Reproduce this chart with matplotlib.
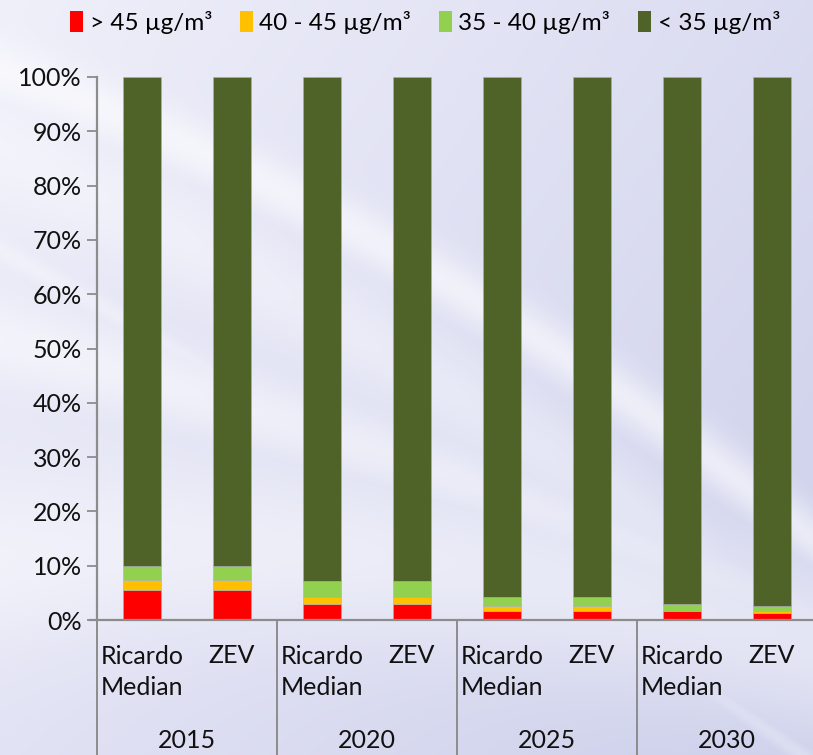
import numpy as np
import matplotlib.pyplot as plt
from matplotlib.patches import Patch
from matplotlib.transforms import blended_transform_factory

plt.rcParams['font.family'] = ['Lato', 'DejaVu Sans']

years = ['2015', '2020', '2025', '2030']
scenarios = ['Ricardo\nMedian', 'ZEV']

# share of sites per concentration band (%), bars ordered year by year, Ricardo then ZEV
above_45 = [5.6, 5.6, 2.9, 2.9, 1.7, 1.7, 1.7, 1.2]
band_40_45 = [1.7, 1.7, 1.3, 1.3, 0.9, 0.9, 0.0, 0.4]
band_35_40 = [2.6, 2.6, 3.0, 3.0, 1.6, 1.6, 1.3, 1.0]
below_35 = [100 - a - b - c for a, b, c in zip(above_45, band_40_45, band_35_40)]

series = [
    ('> 45 µg/m³', above_45, '#FF0000'),
    ('40 - 45 µg/m³', band_40_45, '#FFC000'),
    ('35 - 40 µg/m³', band_35_40, '#92D050'),
    ('< 35 µg/m³', below_35, '#4F6228'),
]

FS = 18
W, H = 813, 755
fig = plt.figure(figsize=(W / 100, H / 100), dpi=100)

# soft lavender backdrop with a few white swooshes
bg = fig.add_axes([0, 0, 1, 1], zorder=-10)
yy, xx = np.mgrid[0:H, 0:W]
t = (xx / W * 0.6 + yy / H * 0.4)
c0 = np.array([0.94, 0.94, 0.98])
c1 = np.array([0.80, 0.81, 0.92])
base = c0 + (c1 - c0) * t[..., None]
bright = np.zeros((H, W))
for a, b, c, w, s in [(70, 0.35, 0.00028, 30, 0.55),
                      (150, 0.45, 0.00020, 55, 0.35),
                      (340, 0.25, 0.00012, 40, 0.45),
                      (560, -0.10, 0.00025, 90, 0.45),
                      (250, 0.55, 0.00010, 12, 0.3)]:
    yc = a + b * xx + c * xx ** 2
    bright = np.maximum(bright, s * np.exp(-((yy - yc) / w) ** 2))
img = base + (1 - base) * bright[..., None]
bg.imshow(np.clip(img, 0, 1), aspect='auto', extent=[0, W, H, 0])
bg.axis('off')

ax = fig.add_axes([97 / W, 135 / H, 720 / W, 543 / H])
ax.patch.set_alpha(0)

x = np.arange(len(above_45))
bottom = np.zeros(len(x))
for label, vals, color in series:
    ax.bar(x, vals, width=0.42, bottom=bottom, color=color,
           edgecolor='#b0b0b0', linewidth=0.4, label=label)
    bottom += np.array(vals)

ax.set_xlim(-0.5, 7.5)
ax.set_ylim(0, 100)
ax.set_yticks(np.arange(0, 101, 10))
ax.set_yticklabels([f'{v}%' for v in range(0, 101, 10)], fontsize=FS, color='#111111')
ax.set_xticks([])
ax.tick_params(axis='y', length=7, width=1.3, color='#8c8c8c', pad=4)
for side in ['top', 'right']:
    ax.spines[side].set_visible(False)
for side in ['left', 'bottom']:
    ax.spines[side].set_color('#8c8c8c')
    ax.spines[side].set_linewidth(1.6)
ax.spines['bottom'].set_bounds(-0.58, 7.5)

# two-level category axis: scenario names, year groups, separators
tr = blended_transform_factory(ax.transData, ax.transAxes)
for i, xi in enumerate(x):
    name = scenarios[i % 2]
    if '\n' in name:
        ax.text(xi, -0.0955, name, transform=tr, ha='center', va='center',
                multialignment='left', linespacing=1.45, fontsize=FS, color='#111111')
    else:
        ax.text(xi, -0.066, name, transform=tr, ha='center', va='center',
                fontsize=FS, color='#111111')
for g, yr in enumerate(years):
    ax.text(2 * g + 0.5, -0.221, yr, transform=tr, ha='center', va='center',
            fontsize=FS, color='#111111')
for sx in [-0.5, 1.5, 3.5, 5.5, 7.5]:
    ax.plot([sx, sx], [0, -0.25], transform=tr, color='#8c8c8c',
            linewidth=1.4, clip_on=False)

handles = [Patch(facecolor=c, edgecolor='none', label=l) for l, _, c in series]
fig.legend(handles=handles, loc='center', bbox_to_anchor=(425 / W, 1 - 22 / H),
           ncol=4, frameon=False, fontsize=17.5, handlelength=0.55,
           handleheight=0.95, handletextpad=0.25, columnspacing=1.15)

fig.savefig('out.png', dpi=100)
